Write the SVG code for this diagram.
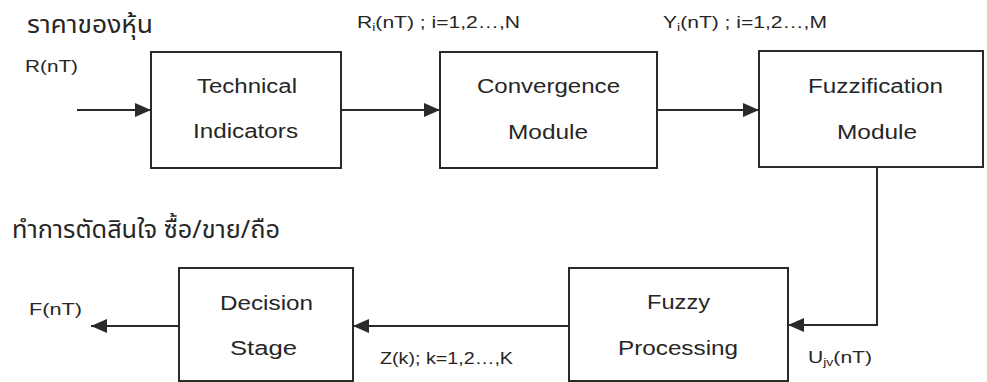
<svg xmlns="http://www.w3.org/2000/svg" width="987" height="382" viewBox="0 0 987 382">
<style>
.box{fill:#fff;stroke:#2a2a2a;stroke-width:2}
.lbl{font-family:"Liberation Sans",Arial,sans-serif;font-size:20px;fill:#262626}
.sig{font-family:"Liberation Sans",Arial,sans-serif;font-size:16.5px;fill:#262626}
.sub{font-size:11px}
.th{font-family:"Noto Sans Thai","Loma","Garuda","Noto Sans","DejaVu Sans",sans-serif;font-size:25px;fill:#262626}
.conn{fill:none;stroke:#2a2a2a;stroke-width:2}
</style>
<defs>
<marker id="ah" markerUnits="userSpaceOnUse" markerWidth="16" markerHeight="14" refX="16" refY="7" orient="auto">
<path d="M0,0 L16,7 L0,14 z" fill="#2a2a2a"/>
</marker>
</defs>
<rect width="987" height="382" fill="#fff"/>
<g id="connectors">
<path class="conn" d="M77,110 H151" marker-end="url(#ah)"/>
<path class="conn" d="M341,110 H440" marker-end="url(#ah)"/>
<path class="conn" d="M657,110 H759" marker-end="url(#ah)"/>
<path class="conn" d="M877,168 V325 H788" marker-end="url(#ah)"/>
<path class="conn" d="M569,326 H353" marker-end="url(#ah)"/>
<path class="conn" d="M179,326 H91" marker-end="url(#ah)"/>
</g>
<g id="technical-indicators">
<rect class="box" x="151" y="52" width="190" height="116"/>
<text class="lbl" x="197" y="93" textLength="100" lengthAdjust="spacingAndGlyphs">Technical</text>
<text class="lbl" x="193" y="138" textLength="105" lengthAdjust="spacingAndGlyphs">Indicators</text>
</g>
<g id="convergence-module">
<rect class="box" x="440" y="52" width="217" height="116"/>
<text class="lbl" x="477" y="93" textLength="143" lengthAdjust="spacingAndGlyphs">Convergence</text>
<text class="lbl" x="508" y="139" textLength="80" lengthAdjust="spacingAndGlyphs">Module</text>
</g>
<g id="fuzzification-module">
<rect class="box" x="759" y="51" width="224" height="116"/>
<text class="lbl" x="808" y="93" textLength="135" lengthAdjust="spacingAndGlyphs">Fuzzification</text>
<text class="lbl" x="837" y="139" textLength="80" lengthAdjust="spacingAndGlyphs">Module</text>
</g>
<g id="fuzzy-processing">
<rect class="box" x="569" y="268" width="219" height="113"/>
<text class="lbl" x="647" y="309" textLength="63" lengthAdjust="spacingAndGlyphs">Fuzzy</text>
<text class="lbl" x="618" y="355" textLength="120" lengthAdjust="spacingAndGlyphs">Processing</text>
</g>
<g id="decision-stage">
<rect class="box" x="179" y="268" width="174" height="113"/>
<text class="lbl" x="220" y="310" textLength="93" lengthAdjust="spacingAndGlyphs">Decision</text>
<text class="lbl" x="230" y="355" textLength="67" lengthAdjust="spacingAndGlyphs">Stage</text>
</g>
<g id="labels">
<text class="th" x="27" y="33" textLength="126" lengthAdjust="spacingAndGlyphs">ราคาของหุ้น</text>
<text class="sig" x="25" y="72" textLength="53" lengthAdjust="spacingAndGlyphs">R(nT)</text>
<text class="sig" x="357" y="28" textLength="163" lengthAdjust="spacingAndGlyphs">R<tspan class="sub" dy="3">i</tspan><tspan dy="-3">(nT) ; i=1,2…,N</tspan></text>
<text class="sig" x="663" y="28" textLength="164" lengthAdjust="spacingAndGlyphs">Y<tspan class="sub" dy="3">i</tspan><tspan dy="-3">(nT) ; i=1,2…,M</tspan></text>
<text class="th" x="12" y="238" textLength="268" lengthAdjust="spacingAndGlyphs">ทำการตัดสินใจ ซื้อ/ขาย/ถือ</text>
<text class="sig" x="29" y="315" textLength="53" lengthAdjust="spacingAndGlyphs">F(nT)</text>
<text class="sig" x="380" y="364" textLength="133" lengthAdjust="spacingAndGlyphs">Z(k); k=1,2…,K</text>
<text class="sig" x="808" y="363" textLength="64" lengthAdjust="spacingAndGlyphs">U<tspan class="sub" dy="3">jv</tspan><tspan dy="-3">(nT)</tspan></text>
</g>
</svg>
